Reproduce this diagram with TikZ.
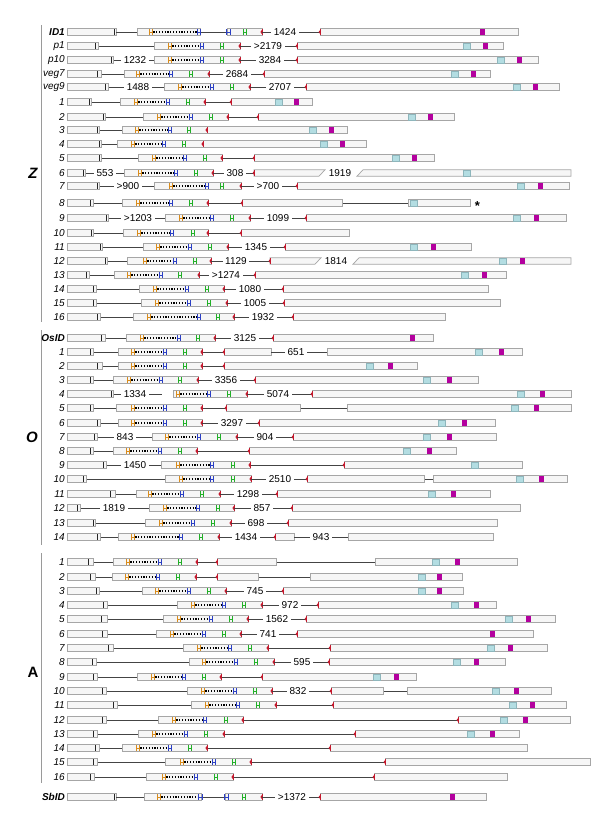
\documentclass[tikz,border=0pt]{standalone}
\usepackage{fontspec}
\setmainfont{Liberation Sans}
\definecolor{exfill}{HTML}{F6F6F6}
\definecolor{exdraw}{HTML}{A6A6A6}
\definecolor{orgc}{HTML}{D98C1C}
\definecolor{blc}{HTML}{2B3FC4}
\definecolor{grc}{HTML}{22B028}
\definecolor{rdc}{HTML}{C4182C}
\definecolor{cyc}{HTML}{B3DDE2}
\definecolor{cyd}{HTML}{8EB6BC}
\definecolor{mgc}{HTML}{B3009E}
\definecolor{inc}{HTML}{444444}
\definecolor{brc}{HTML}{9A9A9A}
\tikzset{
 exonbox/.style={draw=exdraw, fill=exfill, line width=0.7pt},
 intronline/.style={draw=inc, line width=0.65pt},
 dotl/.style={draw=black, line width=1.3pt, dash pattern=on 1.2pt off 1.6pt},
 ilab/.style={fill=white, inner xsep=2.5pt, inner ysep=0.5pt, font=\fontsize{10}{11}\selectfont},
 brklab/.style={inner sep=0pt, font=\fontsize{10}{11}\selectfont},
 rowlab/.style={anchor=east, inner sep=0pt, font=\fontsize{10}{11}\selectfont\itshape},
 seclab/.style={inner sep=0pt, font=\fontsize{15}{16}\selectfont\bfseries},
 bracket/.style={draw=brc, line width=0.6pt}
}
\newcommand\gEx[3]{\draw[exonbox] (#2,#1-3.2) rectangle (#3,#1+3.2);}
\newcommand\gLn[3]{\draw[intronline] (#2,#1) -- (#3,#1);}
\newcommand\gLt[5]{\draw[intronline] (#2,#1) -- (#3,#1); \node[ilab] at (#4,#1) {#5};}
\newcommand\gH[3]{\draw[#1, line width=1pt] (#3-1.6,#2-2.8) -- (#3-1.6,#2+2.8) (#3+1.6,#2-2.8) -- (#3+1.6,#2+2.8) (#3-1.6,#2) -- (#3+1.6,#2);}
\newcommand\gRe[2]{\fill[rdc] (#2,#1-2.2) -- (#2,#1+2.2) -- (#2-1.6,#1) -- cycle; \draw[rdc, line width=0.9pt] (#2,#1-3) -- (#2,#1+3);}
\newcommand\gRs[2]{\fill[rdc] (#2+0.3,#1-2.2) -- (#2+0.3,#1+2.2) -- (#2-1.4,#1) -- cycle; \draw[rdc, line width=0.9pt] (#2+0.3,#1-3) -- (#2+0.3,#1+3);}
\newcommand\gTick[2]{\draw[black!85, line width=0.9pt] (#2,#1-3) -- (#2,#1+3);}
\newcommand\gFirst[4]{\node[rowlab] at (65,#1) {#2}; \gEx{#1}{67}{#3} \gTick{#1}{#4}}
\newcommand\gRow[6]{\gEx{#1}{#2}{#6} \draw[dotl] (#3+2.4,#1) -- (#4-2.4,#1); \gH{orgc}{#1}{#3} \gH{blc}{#1}{#4} \gH{grc}{#1}{#5} \gRe{#1}{#6}}
\newcommand\gFinal[3]{\gEx{#1}{#2}{#3} \gRs{#1}{#2}}
\newcommand\gCy[2]{\draw[fill=cyc, draw=cyd, line width=0.5pt] (#2,#1-3.2) rectangle (#2+7,#1+3.2);}
\newcommand\gMg[2]{\fill[mgc] (#2,#1-3.2) rectangle (#2+5,#1+3.2);}
\newcommand\gBrk[7]{% y x1 x2 text tc x3 x4
 \draw[exonbox] (#2,#1-3.2) -- (#3+6,#1-3.2) -- (#3,#1+3.2) -- (#2,#1+3.2) -- cycle;
 \node[brklab] at (#5,#1) {#4};
 \draw[exonbox] (#6,#1+3.2) -- (#6+6,#1-3.2) -- (#7,#1-3.2) -- (#7,#1+3.2) -- cycle;}
\begin{document}
\begin{tikzpicture}[x=1pt,y=-1pt]
\useasboundingbox (0,0) rectangle (600,831);
% brackets and section letters
\draw[bracket] (41,25) -- (41,322);
\draw[bracket] (41,330) -- (41,545);
\draw[bracket] (41,553) -- (41,783);
\node[seclab, font=\fontsize{15}{16}\selectfont\bfseries\itshape] (secZ) at (33,173) {Z};
\node[seclab, font=\fontsize{15}{16}\selectfont\bfseries\itshape] (secO) at (32,437) {O};
\node[seclab] (secA) at (33,672) {A};
% ================= Z =================
% ID1
\gFirst{32}{\bfseries ID1}{116}{114}
\gLn{32}{116}{137} \gLn{32}{200}{227}
\gEx{32}{137}{200} \gEx{32}{227}{262}
\draw[dotl] (153.4,32) -- (196.6,32);
\gH{orgc}{32}{151} \gH{blc}{32}{199} \gH{blc}{32}{228.5} \gH{grc}{32}{245} \gRe{32}{262}
\gLt{32}{262}{320}{285}{1424}
\gFinal{32}{320}{518} \gMg{32}{480}
% p1
\gLn{46}{98}{154}
\gFirst{46}{p1}{98}{95}
\gRow{46}{154}{170}{202}{222}{240}
\gLt{46}{240}{297}{268}{>2179}
\gFinal{46}{297}{503} \gCy{46}{463} \gMg{46}{483}
% p10
\gLt{60}{113}{154}{135}{1232}
\gFirst{60}{p10}{113}{111}
\gRow{60}{154}{170}{202}{222}{240}
\gLt{60}{240}{297}{270}{3284}
\gFinal{60}{297}{538} \gCy{60}{497} \gMg{60}{517}
% veg7
\gLn{74}{101}{124}
\gFirst{74}{veg7}{101}{97}
\gRow{74}{124}{138}{171}{191}{209}
\gLt{74}{209}{264}{237}{2684}
\gFinal{74}{264}{490} \gCy{74}{451} \gMg{74}{471}
% veg9
\gLt{87}{108}{164}{138}{1488}
\gFirst{87}{veg9}{108}{105}
\gRow{87}{164}{180}{212}{232}{250}
\gLt{87}{250}{306}{280}{2707}
\gFinal{87}{306}{559} \gCy{87}{513} \gMg{87}{533}
% 1
\gLn{102}{91}{120} \gLn{102}{205}{231}
\gFirst{102}{1}{91}{89}
\gRow{102}{120}{136}{168}{188}{205}
\gFinal{102}{231}{312} \gCy{102}{275} \gMg{102}{294}
% 2
\gLn{117}{105}{143} \gLn{117}{228}{258}
\gFirst{117}{2}{105}{103}
\gRow{117}{143}{159}{191}{211}{228}
\gFinal{117}{258}{454} \gCy{117}{408} \gMg{117}{428}
% 3
\gLn{130}{99}{122}
\gFirst{130}{3}{99}{97}
\gEx{130}{207}{347}
\gRow{130}{122}{137}{170}{189}{207}
\gCy{130}{309} \gMg{130}{329}
% 4
\gLn{144}{101}{117}
\gFirst{144}{4}{101}{99}
\gEx{144}{203}{366}
\gRow{144}{117}{133}{164}{184}{203}
\gCy{144}{320} \gMg{144}{340}
% 5
\gLn{158}{101}{138} \gLn{158}{222}{254}
\gFirst{158}{5}{101}{99}
\gRow{158}{138}{154}{185}{205}{222}
\gFinal{158}{254}{434} \gCy{158}{392} \gMg{158}{412}
% 6
\gLt{173}{85}{124}{105}{553}
\gFirst{173}{6}{85}{83}
\gRow{173}{124}{140}{176}{196}{213}
\gLt{173}{213}{254}{235}{308}
\gBrk{173}{254}{319}{1919}{340}{357}{571}
\gRs{173}{254} \gCy{173}{463}
% 7
\gLt{186}{99}{154}{128}{>900}
\gFirst{186}{7}{99}{97}
\gRow{186}{154}{171}{207}{222}{241}
\gLt{186}{241}{297}{268}{>700}
\gFinal{186}{297}{569} \gCy{186}{517} \gMg{186}{538}
% 8
\gLn{203}{93}{122} \gLn{203}{208}{242} \gLn{203}{342}{408}
\gFirst{203}{8}{93}{90}
\gRow{203}{122}{138}{171}{191}{208}
\gFinal{203}{242}{342}
\gEx{203}{408}{470} \gCy{203}{410}
\node[inner sep=0pt, font=\fontsize{13}{13}\selectfont\bfseries] (star) at (477.5,206) {*};
% 9
\gLt{218}{108}{165}{138}{>1203}
\gFirst{218}{9}{108}{106}
\gRow{218}{165}{181}{212}{232}{250}
\gLt{218}{250}{306}{278}{1099}
\gFinal{218}{306}{566} \gCy{218}{513} \gMg{218}{534}
% 10
\gLn{233}{93}{123} \gLn{233}{208}{241}
\gFirst{233}{10}{93}{91}
\gRow{233}{123}{139}{172}{193}{208}
\gFinal{233}{241}{349}
% 11
\gLn{247}{102}{143}
\gFirst{247}{11}{102}{100}
\gRow{247}{143}{158}{190}{210}{228}
\gLt{247}{228}{285}{256}{1345}
\gFinal{247}{285}{471} \gCy{247}{410} \gMg{247}{431}
% 12
\gLn{261}{107}{127}
\gFirst{261}{12}{107}{105}
\gRow{261}{127}{145}{175}{195}{211}
\gLt{261}{211}{270}{236}{1129}
\gBrk{261}{270}{315}{1814}{336}{353}{571}
\gRs{261}{270} \gCy{261}{499} \gMg{261}{520}
% 13
\gLn{275}{89}{114}
\gFirst{275}{13}{89}{86}
\gRow{275}{114}{129}{161}{180}{199}
\gLt{275}{199}{255}{226}{>1274}
\gFinal{275}{255}{506} \gCy{275}{461} \gMg{275}{482}
% 14
\gLn{289}{96}{139}
\gFirst{289}{14}{96}{93}
\gRow{289}{139}{155}{187}{207}{224}
\gLt{289}{224}{283}{250}{1080}
\gFinal{289}{283}{488}
% 15
\gLn{303}{96}{141}
\gFirst{303}{15}{96}{93}
\gRow{303}{141}{157}{189}{209}{227}
\gLt{303}{227}{284}{255}{1005}
\gFinal{303}{284}{500}
% 16
\gLn{317}{100}{133}
\gFirst{317}{16}{100}{97}
\gRow{317}{133}{149}{199}{218}{234}
\gLt{317}{234}{293}{263}{1932}
\gFinal{317}{293}{445}
% ================= O =================
% OsID
\gLn{338}{105}{126}
\gFirst{338}{\bfseries OsID}{105}{101}
\gRow{338}{126}{142}{179}{198}{215}
\gLt{338}{215}{273}{245}{3125}
\gFinal{338}{273}{433} \gMg{338}{410}
% O1
\gLn{352}{93}{118} \gLn{352}{202}{224}
\gFirst{352}{1}{93}{90}
\gRow{352}{118}{133}{165}{185}{202}
\gFinal{352}{224}{271}
\gLt{352}{271}{327}{296}{651}
\gEx{352}{327}{522} \gCy{352}{475} \gMg{352}{499}
% O2
\gLn{366}{102}{118} \gLn{366}{202}{224}
\gFirst{366}{2}{102}{97}
\gRow{366}{118}{133}{165}{185}{202}
\gFinal{366}{224}{417} \gCy{366}{366} \gMg{366}{388}
% O3
\gLn{380}{93}{113}
\gFirst{380}{3}{93}{90}
\gRow{380}{113}{129}{161}{180}{198}
\gLt{380}{198}{255}{226}{3356}
\gFinal{380}{255}{478} \gCy{380}{423} \gMg{380}{447}
% O4
\gLt{394}{113}{162}{135}{1334}
\gFirst{394}{4}{113}{111}
\gRow{394}{173}{178}{209}{229}{247}
\gLt{394}{247}{312}{278}{5074}
\gFinal{394}{312}{571} \gCy{394}{517} \gMg{394}{540}
% O5
\gLn{408}{93}{116} \gLn{408}{202}{226} \gLn{408}{300}{347}
\gFirst{408}{5}{93}{90}
\gRow{408}{116}{133}{165}{185}{202}
\gFinal{408}{226}{300}
\gEx{408}{347}{571} \gCy{408}{511} \gMg{408}{534}
% O6
\gLn{423}{100}{118}
\gFirst{423}{6}{100}{97}
\gRow{423}{118}{133}{165}{185}{202}
\gLt{423}{202}{259}{232}{3297}
\gFinal{423}{259}{495} \gCy{423}{438} \gMg{423}{462}
% O7
\gLt{437}{97}{152}{125}{843}
\gFirst{437}{7}{97}{94}
\gRow{437}{152}{167}{199}{219}{237}
\gLt{437}{237}{293}{265}{904}
\gFinal{437}{293}{496} \gCy{437}{423} \gMg{437}{447}
% O8
\gLn{451}{93}{113} \gLn{451}{197}{249}
\gFirst{451}{8}{93}{90}
\gRow{451}{113}{128}{160}{180}{197}
\gFinal{451}{249}{456} \gCy{451}{403} \gMg{451}{427}
% O9
\gLt{465}{106}{161}{135}{1450}
\gLn{465}{250}{344}
\gFirst{465}{9}{106}{103}
\gRow{465}{161}{178}{212}{233}{250}
\gFinal{465}{344}{522} \gCy{465}{471}
% O10
\gLn{479}{86}{165} \gLn{479}{424}{433}
\gFirst{479}{10}{86}{83}
\gRow{479}{165}{181}{212}{233}{251}
\gLt{479}{251}{307}{280}{2510}
\gFinal{479}{307}{424}
\gEx{479}{433}{567} \gCy{479}{516} \gMg{479}{539}
% O11
\gLn{494}{115}{136}
\gFirst{494}{11}{115}{110}
\gRow{494}{136}{150}{182}{202}{220}
\gLt{494}{220}{277}{248}{1298}
\gFinal{494}{277}{490} \gCy{494}{428} \gMg{494}{451}
% O12
\gLt{508}{80}{149}{114}{1819}
\gFirst{508}{12}{80}{77}
\gRow{508}{149}{165}{198}{218}{234}
\gLt{508}{234}{292}{262}{857}
\gFinal{508}{292}{520}
% O13
\gLn{523}{95}{145}
\gFirst{523}{13}{95}{93}
\gRow{523}{145}{161}{193}{213}{231}
\gLt{523}{231}{288}{256}{698}
\gFinal{523}{288}{497}
% O14
\gLn{537}{100}{118}
\gFirst{537}{14}{100}{97}
\gRow{537}{118}{133}{181}{201}{219}
\gLt{537}{219}{275}{246}{1434}
\gFinal{537}{275}{294}
\gLt{537}{294}{348}{321}{943}
\gEx{537}{348}{493}
% ================= A =================
% A1
\gLn{562}{93}{113} \gLn{562}{197}{217} \gLn{562}{276}{375}
\gFirst{562}{1}{93}{88}
\gRow{562}{113}{128}{160}{180}{197}
\gFinal{562}{217}{276}
\gEx{562}{375}{517} \gCy{562}{432} \gMg{562}{455}
% A2
\gLn{577}{95}{112} \gLn{577}{196}{217} \gLn{577}{258}{310}
\gFirst{577}{2}{95}{90}
\gRow{577}{112}{127}{158}{178}{196}
\gFinal{577}{217}{258}
\gEx{577}{310}{462} \gCy{577}{418} \gMg{577}{437}
% A3
\gLn{591}{99}{142}
\gFirst{591}{3}{99}{96}
\gRow{591}{142}{157}{189}{209}{226}
\gLt{591}{226}{283}{255}{745}
\gFinal{591}{283}{463} \gCy{591}{418} \gMg{591}{437}
% A4
\gLn{605}{107}{177}
\gFirst{605}{4}{107}{103}
\gRow{605}{177}{193}{224}{244}{262}
\gLt{605}{262}{318}{290}{972}
\gFinal{605}{318}{496} \gCy{605}{451} \gMg{605}{474}
% A5
\gLn{619}{107}{163}
\gFirst{619}{5}{107}{101}
\gRow{619}{163}{179}{211}{231}{248}
\gLt{619}{248}{306}{277}{1562}
\gFinal{619}{306}{555} \gCy{619}{505} \gMg{619}{526}
% A6
\gLn{634}{107}{156}
\gFirst{634}{6}{107}{102}
\gRow{634}{156}{172}{204}{224}{241}
\gLt{634}{241}{297}{268}{741}
\gFinal{634}{297}{533} \gMg{634}{490}
% A7
\gLn{648}{113}{183} \gLn{648}{268}{330}
\gFirst{648}{7}{113}{108}
\gRow{648}{183}{199}{230}{250}{268}
\gFinal{648}{330}{547} \gCy{648}{487} \gMg{648}{508}
% A8
\gLn{662}{96}{189}
\gFirst{662}{8}{96}{92}
\gRow{662}{189}{204}{236}{256}{274}
\gLt{662}{274}{329}{302}{595}
\gFinal{662}{329}{505} \gCy{662}{453} \gMg{662}{474}
% A9
\gLn{677}{97}{137} \gLn{677}{221}{262}
\gFirst{677}{9}{97}{93}
\gRow{677}{137}{153}{184}{204}{221}
\gFinal{677}{262}{416} \gCy{677}{373} \gMg{677}{394}
% A10
\gLn{691}{106}{187} \gLn{691}{383}{407}
\gFirst{691}{10}{106}{102}
\gRow{691}{187}{203}{235}{255}{272}
\gLt{691}{272}{331}{298}{832}
\gFinal{691}{331}{383}
\gEx{691}{407}{551} \gCy{691}{492} \gMg{691}{514}
% A11
\gLn{705}{117}{191} \gLn{705}{276}{333}
\gFirst{705}{11}{117}{113}
\gRow{705}{191}{207}{238}{258}{276}
\gFinal{705}{333}{566} \gCy{705}{509} \gMg{705}{530}
% A12
\gLn{720}{106}{158} \gLn{720}{243}{458}
\gFirst{720}{12}{106}{102}
\gRow{720}{158}{174}{205}{226}{243}
\gFinal{720}{458}{570} \gCy{720}{500} \gMg{720}{523}
% A13
\gLn{734}{97}{138} \gLn{734}{224}{355}
\gFirst{734}{13}{97}{93}
\gRow{734}{138}{154}{186}{206}{224}
\gFinal{734}{355}{519} \gCy{734}{467} \gMg{734}{490}
% A14
\gLn{748}{99}{122} \gLn{748}{207}{330}
\gFirst{748}{14}{99}{95}
\gRow{748}{122}{138}{170}{190}{207}
\gFinal{748}{330}{527}
% A15
\gLn{762}{97}{165} \gLn{762}{251}{385}
\gFirst{762}{15}{97}{93}
\gRow{762}{165}{182}{214}{234}{251}
\gFinal{762}{385}{590}
% A16
\gLn{777}{94}{146} \gLn{777}{233}{374}
\gFirst{777}{16}{94}{90}
\gRow{777}{146}{164}{196}{216}{233}
\gFinal{777}{374}{507}
% SbID
\gFirst{797}{\bfseries SbID}{116}{114}
\gLn{797}{116}{144} \gLn{797}{201}{225}
\gEx{797}{144}{201} \gEx{797}{225}{262}
\draw[dotl] (161.4,797) -- (198.6,797);
\gH{orgc}{797}{159} \gH{blc}{797}{200.5} \gH{blc}{797}{226.5} \gH{grc}{797}{244} \gRe{797}{262}
\gLt{797}{262}{320}{292}{>1372}
\gFinal{797}{320}{486} \gMg{797}{450}
\end{tikzpicture}
\end{document}
